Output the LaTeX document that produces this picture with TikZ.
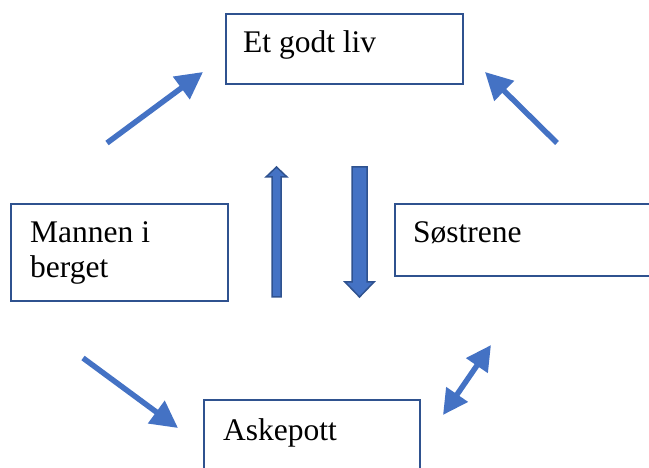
\documentclass[tikz,border=0pt]{standalone}
\usepackage{fontspec}
\setmainfont{Liberation Serif}
\usetikzlibrary{arrows.meta}
\definecolor{boxline}{HTML}{2F528F}
\definecolor{arrowblue}{HTML}{4472C4}
\begin{document}
\begin{tikzpicture}[x=1pt,y=-1pt,
  box/.style={draw=boxline,line width=1.6pt,fill=white,rectangle,inner sep=0pt,anchor=north west},
  word/.style={anchor=base west,inner sep=0pt,font=\fontsize{31.5}{35}\selectfont},
  flow/.style={draw=arrowblue,line width=5.5pt,-{Triangle[length=27pt,width=27pt]}},
  twoway/.style={draw=arrowblue,line width=5.5pt,{Triangle[length=25pt,width=25pt]}-{Triangle[length=25pt,width=25pt]}},
  block/.style={fill=arrowblue,draw=boxline,line width=1.5pt,line join=miter}]
\useasboundingbox (0,0) rectangle (649,468);
\clip (0,0) rectangle (649,468);

% story boxes
\node[box,minimum width=237pt,minimum height=70pt] (liv) at (225,13) {};
\node[word] (livtxt) at (243,53) {Et godt liv};

\node[box,minimum width=217pt,minimum height=97pt] (mannen) at (10,203) {};
\node[word] (mannentxt) at (30,243) {Mannen i};
\node[word] (bergettxt) at (30,278) {berget};

\node[box,minimum width=270pt,minimum height=72pt] (sostrene) at (394,203) {};
\node[word] (sostrenetxt) at (413,243) {Søstrene};

\node[box,minimum width=216pt,minimum height=90pt] (askepott) at (203,399) {};
\node[word] (askepotttxt) at (223,440) {Askepott};

% free ends of the thin arrows
\coordinate (ulA) at (107,143);
\coordinate (ulB) at (203,72);
\coordinate (urA) at (557,143);
\coordinate (urB) at (485,72);
\coordinate (llA) at (83,358);
\coordinate (llB) at (178,428);
\coordinate (lrA) at (491,345);
\coordinate (lrB) at (443,415);

\draw[flow] (ulA) -- (ulB);
\draw[flow] (urA) -- (urB);
\draw[flow] (llA) -- (llB);
\draw[twoway] (lrB) -- (lrA);

% block arrows in the middle
\draw[block] (272,297) -- (272,177) -- (266,177) -- (276.5,167) -- (287,177)
  -- (281,177) -- (281,297) -- cycle;
\draw[block] (352,167) -- (367,167) -- (367,282) -- (374,282) -- (359.5,297)
  -- (345,282) -- (352,282) -- cycle;
\end{tikzpicture}
\end{document}
